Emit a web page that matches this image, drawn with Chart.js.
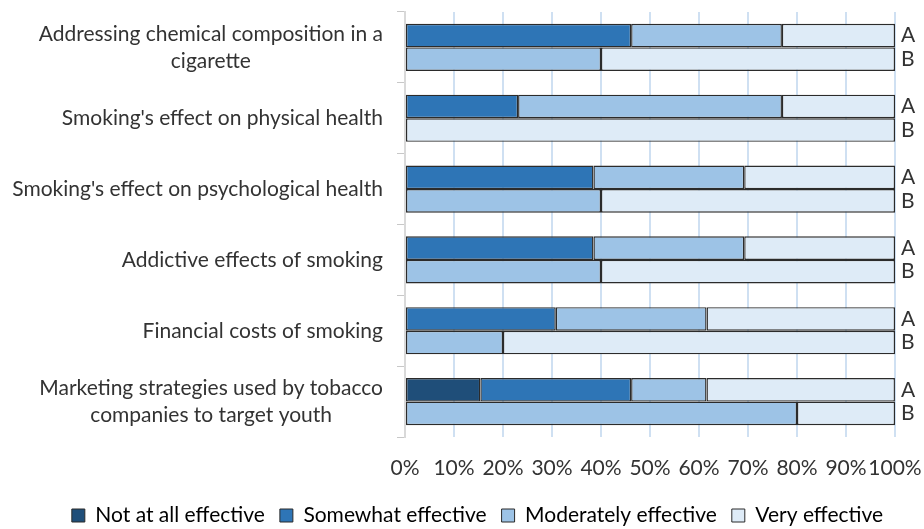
<!DOCTYPE html>
<html>
<head>
<meta charset="utf-8">
<script src="https://cdn.jsdelivr.net/npm/chart.js@4/dist/chart.umd.min.js"></script>
<style>
  html, body { margin: 0; padding: 0; background: #fff; }
  #wrap { width: 924px; height: 529px; }
</style>
</head>
<body>
<div id="wrap"><canvas id="chart"></canvas></div>
<script>
// categories, one per pair of bars (A above B)
const categories = [
  ['Addressing chemical composition in a', 'cigarette'],
  ["Smoking's effect on physical health"],
  ["Smoking's effect on psychological health"],
  ['Addictive effects of smoking'],
  ['Financial costs of smoking'],
  ['Marketing strategies used by tobacco', 'companies to target youth']
];
const groups = ['A', 'B'];
const levels = ['Not at all effective', 'Somewhat effective', 'Moderately effective', 'Very effective'];
const levelColors = ['#1f4e79', '#2e75b6', '#9dc3e6', '#deebf7'];

// percentages, group A
const notAtAllA   = [null, null, null, null, null, 15.38];
const somewhatA   = [46.15, 23.08, 38.46, 38.46, 30.77, 30.77];
const moderatelyA = [30.77, 53.85, 30.77, 30.77, 30.77, 15.38];
const veryA       = [23.08, 23.08, 30.77, 30.77, 38.46, 38.46];

// percentages, group B
const notAtAllB   = [null, null, null, null, null, null];
const somewhatB   = [null, null, null, null, null, null];
const moderatelyB = [40, null, 40, 40, 20, 80];
const veryB       = [60, 100, 60, 60, 80, 20];

const xTicks = [0, 10, 20, 30, 40, 50, 60, 70, 80, 90, 100];

const FONT = 'Lato';
const FSIZE = 21;
const TEXT = '#333333';
const EDGE = '#2b2b2b';

const seriesA = [notAtAllA, somewhatA, moderatelyA, veryA];
const seriesB = [notAtAllB, somewhatB, moderatelyB, veryB];

const datasets = [];
[seriesA, seriesB].forEach((series, g) => {
  series.forEach((vals, i) => {
    datasets.push({
      label: levels[i],
      data: vals,
      stack: groups[g],
      backgroundColor: levelColors[i],
      borderColor: EDGE,
      borderWidth: 1.4,
      borderSkipped: false,
      categoryPercentage: 0.665,
      barPercentage: 1.0
    });
  });
});

// category names: block right-aligned to the axis, lines centred inside the block
const categoryLabels = {
  id: 'categoryLabels',
  afterDraw(chart) {
    const ctx = chart.ctx;
    const y = chart.scales.y;
    const right = chart.chartArea.left - 22;
    const lh = 27;
    ctx.save();
    ctx.font = `${FSIZE}px ${FONT}`;
    ctx.fillStyle = TEXT;
    ctx.textBaseline = 'middle';
    ctx.textAlign = 'center';
    categories.forEach((lines, i) => {
      const yc = y.getPixelForValue(i);
      const w = Math.max(...lines.map(l => ctx.measureText(l).width));
      const cx = right - w / 2;
      lines.forEach((l, k) => {
        ctx.fillText(l, cx, yc + (k - (lines.length - 1) / 2) * lh);
      });
    });
    ctx.restore();
  }
};

// writes A / B to the right of each bar pair
const groupLabels = {
  id: 'groupLabels',
  afterDatasetsDraw(chart) {
    const ctx = chart.ctx;
    const area = chart.chartArea;
    ctx.save();
    ctx.font = `${FSIZE}px ${FONT}`;
    ctx.fillStyle = TEXT;
    ctx.textBaseline = 'middle';
    ctx.textAlign = 'left';
    groups.forEach((g, gi) => {
      const meta = chart.getDatasetMeta(gi * levels.length + levels.length - 1);
      meta.data.forEach(bar => {
        ctx.fillText(g, area.right + 6, bar.y);
      });
    });
    ctx.restore();
  }
};

// legend row sits a little right of the canvas centre in the original
const legendShift = {
  id: 'legendShift',
  afterLayout(chart) {
    chart.legend.left += 30;
    chart.legend.right += 30;
  }
};

new Chart(document.getElementById('chart'), {
  type: 'bar',
  data: { labels: categories.map(c => c.join(' ')), datasets },
  options: {
    indexAxis: 'y',
    responsive: true,
    maintainAspectRatio: false,
    animation: false,
    layout: { padding: { top: 12, right: 29, left: 0, bottom: 0 } },
    plugins: {
      tooltip: { enabled: false },
      legend: {
        position: 'bottom',
        maxHeight: 39,
        labels: {
          color: TEXT,
          font: { family: FONT, size: FSIZE },
          boxWidth: 13,
          boxHeight: 13,
          padding: 15,
          filter: item => item.datasetIndex < levels.length,
          generateLabels: chart => chart.data.datasets.map((ds, i) => ({
            text: ds.label,
            fillStyle: ds.backgroundColor,
            strokeStyle: EDGE,
            lineWidth: 1,
            datasetIndex: i
          }))
        }
      }
    },
    scales: {
      x: {
        stacked: true,
        min: 0,
        max: 100,
        afterBuildTicks: scale => { scale.ticks = xTicks.map(v => ({ value: v })); },
        afterFit: scale => {
          scale.height = 53;
          scale.paddingLeft = 0;
          scale.paddingRight = 0;
        },
        ticks: {
          color: TEXT,
          font: { family: FONT, size: FSIZE },
          padding: 19,
          maxRotation: 0,
          autoSkip: false,
          callback: v => v + '%'
        },
        grid: { color: '#cfe0f2', lineWidth: 2, drawTicks: false },
        border: { display: false }
      },
      y: {
        stacked: true,
        afterFit: scale => { scale.width = 405; },
        ticks: { display: false },
        grid: { offset: true, drawOnChartArea: false, tickLength: 8, color: '#c8c8c8' },
        border: { color: '#d9d9d9', width: 2 }
      }
    }
  },
  plugins: [categoryLabels, groupLabels, legendShift]
});
</script>
</body>
</html>
